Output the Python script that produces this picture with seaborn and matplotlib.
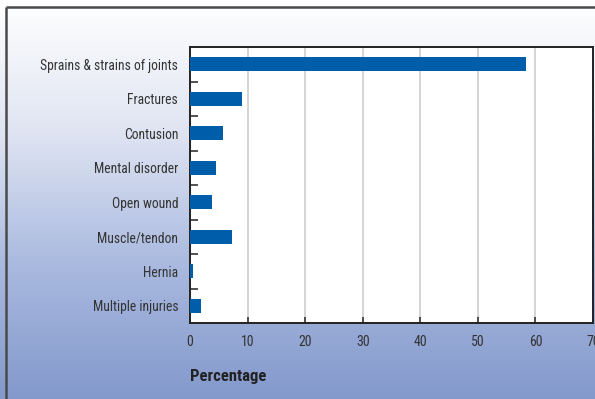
import numpy as np
import pandas as pd
import matplotlib
matplotlib.use("Agg")
import matplotlib.pyplot as plt
import seaborn as sns
from matplotlib import font_manager
from matplotlib.colors import LinearSegmentedColormap
from matplotlib.ticker import FixedLocator

categories = [
    "Sprains & strains of joints",
    "Fractures",
    "Contusion",
    "Mental disorder",
    "Open wound",
    "Muscle/tendon",
    "Hernia",
    "Multiple injuries",
]
percentages = [58.3, 9.0, 5.8, 4.5, 3.8, 7.3, 0.5, 1.9]
x_ticks = [0, 10, 20, 30, 40, 50, 60, 70]

df = pd.DataFrame({"category": categories, "pct": percentages})

sns.set_theme(style="white")

# prefer a condensed face when one is installed
installed = {f.name for f in font_manager.fontManager.ttflist}
condensed = [n for n in ("Roboto Condensed", "Liberation Sans Narrow", "Open Sans Condensed")
             if n in installed]
if condensed:
    plt.rcParams["font.family"] = [condensed[0], "DejaVu Sans"]
    lab_size, tick_size, title_size = 9.8, 10, 12
else:
    plt.rcParams["font.family"] = ["Roboto", "DejaVu Sans"]
    lab_size, tick_size, title_size = 8.7, 9.5, 11.5

W, H = 595, 399
fig = plt.figure(figsize=(W / 100, H / 100), dpi=100)

# vertical gradient background
bg = fig.add_axes([0, 0, 1, 1], zorder=-10)
grad = np.linspace(0, 1, 256).reshape(-1, 1)
cmap = LinearSegmentedColormap.from_list("bg", ["#ffffff", "#dfe4f2", "#a9b9df", "#8399cc"])
bg.imshow(grad, aspect="auto", cmap=cmap, extent=[0, 1, 0, 1], origin="upper")
bg.set_xlim(0, 1)
bg.set_ylim(0, 1)
bg.axis("off")
# frame lines along the top and left edges
bg.plot([6 / W, 6 / W], [0, 1 - 7 / H], color="#4a4a4a", lw=1.8, solid_capstyle="butt")
bg.plot([6 / W, 1], [1 - 7 / H, 1 - 7 / H], color="#4a4a4a", lw=1.8, solid_capstyle="butt")

ax = fig.add_axes([190 / W, (H - 323) / H, 403 / W, 276 / H])
ax.set_facecolor("white")
sns.barplot(data=df, x="pct", y="category", orient="h", color="#005da9",
            saturation=1, width=0.42, linewidth=0, ax=ax, zorder=3)

ax.set_xlim(0, 70)
ax.set_ylim(len(categories) - 0.5, -0.5)
ax.set_xticks(x_ticks)
ax.set_xticklabels([str(t) for t in x_ticks], fontsize=tick_size, color="#333333")
ax.grid(axis="x", color="#d4d4d4", lw=1.4, zorder=0)
ax.set_axisbelow(True)

ax.tick_params(axis="y", which="major", length=0, pad=8.5, labelsize=lab_size, labelcolor="#333333")
ax.yaxis.set_minor_locator(FixedLocator(np.arange(0.5, len(categories) - 1, 1.0)))
ax.tick_params(axis="y", which="minor", direction="in", length=6, width=1.2, color="#333333", left=True)
ax.tick_params(axis="x", which="major", direction="in", length=4, width=1.2, color="#333333",
               pad=9, bottom=True)

for s in ax.spines.values():
    s.set_visible(True)
    s.set_color("#222222")
    s.set_linewidth(1.4)

ax.set_ylabel("")
ax.set_xlabel("Percentage", fontsize=title_size, fontweight="bold", color="#222222")
ax.xaxis.set_label_coords(0, -0.165)
ax.xaxis.label.set_horizontalalignment("left")

fig.savefig("out.png", dpi=100)
